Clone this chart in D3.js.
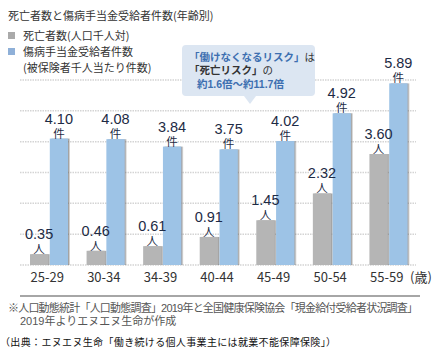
<!DOCTYPE html>
<html>
<head>
<meta charset="utf-8">
<script src="https://d3js.org/d3.v7.min.js"></script>
<style>
  body { margin: 0; background: #fff; }
  text { font-family: "Noto Sans CJK JP", "Noto Sans", sans-serif; }
  .tight { font-family: "Liberation Sans", "Noto Sans CJK JP", sans-serif; }
</style>
</head>
<body>
<svg width="446" height="363"></svg>
<script>
  const ages = ["25-29", "30-34", "34-39", "40-44", "45-49", "50-54", "55-59"];
  const deaths = [0.35, 0.46, 0.61, 0.91, 1.45, 2.32, 3.60];
  const claims = [4.10, 4.08, 3.84, 3.75, 4.02, 4.92, 5.89];
  const yTicks = [0, 1, 2, 3, 4, 5, 6];

  const svg = d3.select("svg");
  const textCol = "#1d2b45";

  const defs = svg.append("defs");
  const f = defs.append("filter").attr("id", "sh")
    .attr("x", "-20%").attr("y", "-5%").attr("width", "150%").attr("height", "110%");
  f.append("feDropShadow").attr("dx", 1.5).attr("dy", 0).attr("stdDeviation", 0.6)
    .attr("flood-color", "#666").attr("flood-opacity", 0.6);

  const x = d3.scaleBand().domain(ages).range([20, 416]);
  const inner = d3.scaleBand().domain(["death", "claim"]).range([10, 48]).paddingInner(0.08);
  const y = d3.scaleLinear().domain([0, 6]).range([265, 80]);

  // title + legend
  svg.append("text").attr("x", 8).attr("y", 20).attr("font-size", 11).attr("fill", "#333")
    .text("死亡者数と傷病手当金受給者件数(年齢別)");
  svg.append("rect").attr("x", 8).attr("y", 32).attr("width", 7).attr("height", 7).attr("fill", "#aaa");
  svg.append("text").attr("x", 23).attr("y", 40).attr("font-size", 11).attr("fill", "#333")
    .text("死亡者数(人口千人対)");
  svg.append("rect").attr("x", 8).attr("y", 48).attr("width", 7).attr("height", 7).attr("fill", "#8fb0d8");
  svg.append("text").attr("x", 23).attr("y", 56).attr("font-size", 11).attr("fill", "#333")
    .text("傷病手当金受給者件数");
  svg.append("text").attr("x", 23).attr("y", 72).attr("font-size", 11).attr("fill", "#333")
    .text("(被保険者千人当たり件数)");

  // grid
  svg.append("g").selectAll("line").data(yTicks).join("line")
    .attr("x1", 20).attr("x2", 416)
    .attr("y1", d => y(d)).attr("y2", d => y(d))
    .attr("stroke", "#d4d4d4").attr("stroke-width", 1.5).attr("stroke-dasharray", "1.5,1");

  // bars
  const g = svg.append("g").selectAll("g").data(ages).join("g")
    .attr("transform", d => `translate(${x(d)},0)`);

  g.append("rect")
    .attr("x", inner("death")).attr("width", inner.bandwidth())
    .attr("y", (d, i) => y(deaths[i])).attr("height", (d, i) => y(0) - y(deaths[i]))
    .attr("fill", "#b5b5b5").attr("filter", "url(#sh)");
  g.append("rect")
    .attr("x", inner("claim")).attr("width", inner.bandwidth())
    .attr("y", (d, i) => y(claims[i])).attr("height", (d, i) => y(0) - y(claims[i]))
    .attr("fill", "#9dc3e6").attr("filter", "url(#sh)");

  // value + unit
  function labels(key, vals, unit) {
    const cx = inner(key) + inner.bandwidth() / 2;
    g.append("text").attr("class", "tight").attr("x", cx).attr("y", (d, i) => y(vals[i]) - 15)
      .attr("text-anchor", "middle").attr("font-size", 14.5).attr("fill", textCol)
      .text((d, i) => vals[i].toFixed(2));
    g.append("text").attr("class", "tight").attr("x", cx).attr("y", (d, i) => y(vals[i]) - 1)
      .attr("text-anchor", "middle").attr("font-size", 11.5).attr("fill", textCol)
      .text(unit);
  }
  labels("death", deaths, "人");
  labels("claim", claims, "件");

  // x labels
  svg.append("g").selectAll("text").data(ages).join("text")
    .attr("x", d => x(d) + x.bandwidth() / 2 - 1).attr("y", 282)
    .attr("text-anchor", "middle").attr("font-size", 13).attr("fill", "#333")
    .text(d => d);
  svg.append("text").attr("x", 410).attr("y", 282).attr("font-size", 13).attr("fill", "#333").text("(歳)");

  // callout
  svg.append("path")
    .attr("d", "M186,45 H311 Q315,45 315,49 V92 Q315,96 311,96 H256 L250,104 L244,96 H186 Q182,96 182,92 V49 Q182,45 186,45 Z")
    .attr("fill", "#dce6f2");
  const c1 = svg.append("text").attr("class", "tight").attr("x", 189).attr("y", 61)
    .attr("font-size", 10.5).attr("font-weight", "bold");
  c1.append("tspan").attr("fill", "#3d6fb0").text("「働けなくなるリスク」");
  c1.append("tspan").attr("fill", "#333").attr("font-weight", "normal").text("は");
  const c2 = svg.append("text").attr("class", "tight").attr("x", 189).attr("y", 74)
    .attr("font-size", 10.5).attr("font-weight", "bold");
  c2.append("tspan").attr("fill", "#333").text("「死亡リスク」");
  c2.append("tspan").attr("fill", "#333").attr("font-weight", "normal").text("の");
  svg.append("text").attr("class", "tight").attr("x", 197).attr("y", 88)
    .attr("font-size", 10.5).attr("font-weight", "bold")
    .attr("fill", "#3d6fb0").text("約1.6倍〜約11.7倍");

  // notes
  svg.append("line").attr("x1", 20).attr("x2", 420).attr("y1", 296).attr("y2", 296)
    .attr("stroke", "#888").attr("stroke-width", 1.5);
  svg.append("text").attr("class", "tight").attr("x", 8).attr("y", 312).attr("font-size", 11).attr("fill", "#555")
    .attr("textLength", 410)
    .text("※人口動態統計「人口動態調査」2019年と全国健康保険協会「現金給付受給者状況調査」");
  svg.append("text").attr("class", "tight").attr("x", 20).attr("y", 325).attr("font-size", 11).attr("fill", "#555")
    .text("2019年よりエヌエヌ生命が作成");
  svg.append("text").attr("x", 0).attr("y", 346).attr("font-size", 10).attr("fill", "#111")
    .attr("textLength", 336)
    .text("（出典：エヌエヌ生命「働き続ける個人事業主には就業不能保障保険」）");
</script>
</body>
</html>
